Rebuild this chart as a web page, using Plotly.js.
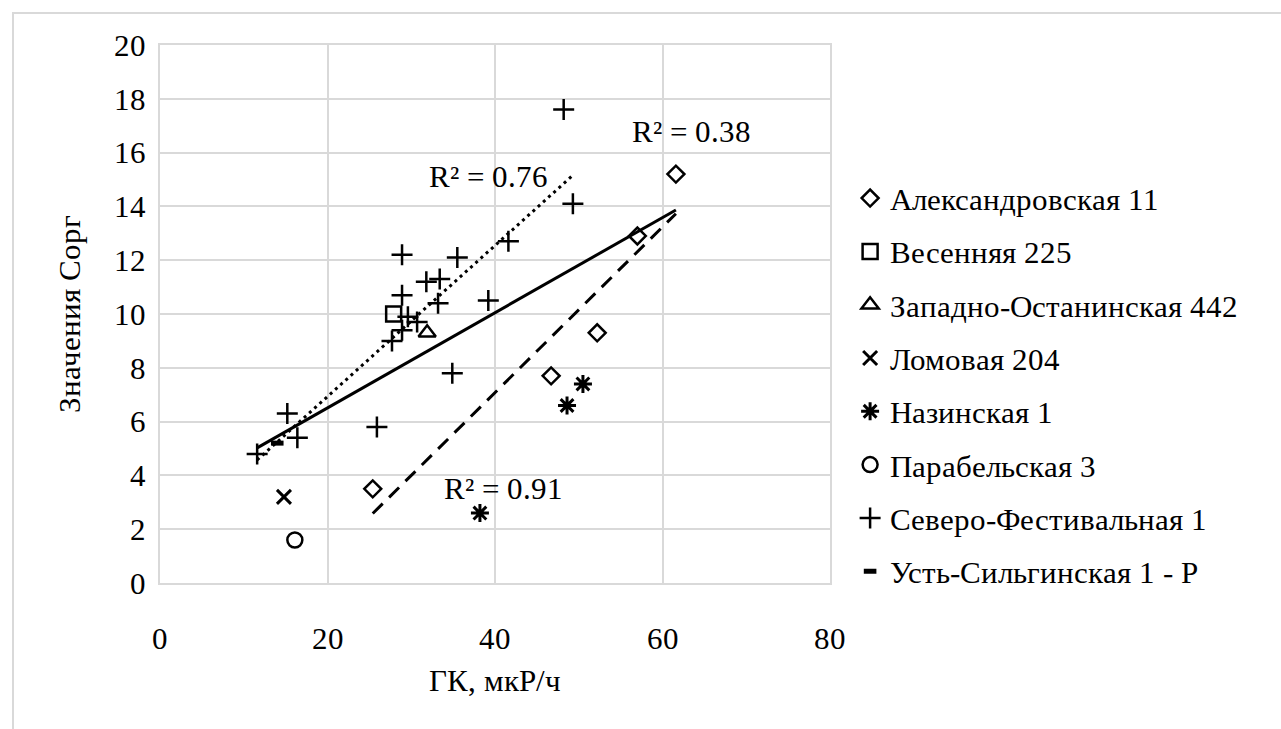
<!DOCTYPE html>
<html>
<head>
<meta charset="utf-8">
<script src="https://cdn.plot.ly/plotly-3.0.1.min.js"></script>
<style>
  @font-face { font-family: "RefSerif"; src: local("Liberation Serif"), local("LiberationSerif"), local("LiberationSerif-Regular"), local("Times New Roman"), local("DejaVu Serif"), local("DejaVuSerif"); }
  html, body { margin: 0; padding: 0; background: #ffffff; overflow: hidden; }
  #frame { position: absolute; left: 12px; top: 12px; width: 1300px; height: 760px; border: 2px solid #d9d9d9; box-sizing: border-box; }
  #chart { position: absolute; left: 0; top: 0; width: 1281px; height: 729px; }
</style>
</head>
<body>
<div id="frame"></div>
<div id="chart"></div>
<script>
// ---- Data ----
const seriesNames = [
  "Александровская 11",
  "Весенняя 225",
  "Западно-Останинская 442",
  "Ломовая 204",
  "Назинская 1",
  "Парабельская 3",
  "Северо-Фестивальная 1",
  "Усть-Сильгинская 1 - Р"
];
const alexX = [25.4, 46.7, 52.2, 57.0, 61.6];
const alexY = [3.5, 7.7, 9.3, 12.9, 15.2];
const vesX = [27.9];
const vesY = [10.0];
const zapX = [31.9];
const zapY = [9.3];
const lomX = [14.8];
const lomY = [3.2];
const nazX = [38.2, 48.6, 50.5];
const nazY = [2.6, 6.6, 7.4];
const parX = [16.1];
const parY = [1.6];
const sevX = [11.6, 15.2, 16.4, 25.9, 27.7, 28.9, 28.9, 28.9, 29.6, 30.7, 31.8, 33.4, 33.2, 35.5, 34.9, 39.2, 41.6, 48.2, 49.3];
const sevY = [4.8, 6.3, 5.4, 5.8, 9.0, 9.4, 10.7, 12.2, 9.9, 9.7, 11.2, 11.3, 10.4, 12.1, 7.8, 10.5, 12.7, 17.6, 14.1];
const ustX = [14.0];
const ustY = [5.2];
const r2Labels = ["R² = 0.38", "R² = 0.76", "R² = 0.91"];
const xTicks = [0, 20, 40, 60, 80];
const yTicks = [0, 2, 4, 6, 8, 10, 12, 14, 16, 18, 20];

// ---- Linear trendline helper (least squares over given data) ----
function linfit(xs, ys) {
  const n = xs.length;
  const mx = xs.reduce((a, b) => a + b, 0) / n;
  const my = ys.reduce((a, b) => a + b, 0) / n;
  let sxy = 0, sxx = 0;
  for (let i = 0; i < n; i++) { sxy += (xs[i] - mx) * (ys[i] - my); sxx += (xs[i] - mx) * (xs[i] - mx); }
  const b = sxy / sxx, a = my - b * mx;
  const x0 = Math.min(...xs), x1 = Math.max(...xs);
  return { x: [x0, x1], y: [a + b * x0, a + b * x1] };
}

const allX = [].concat(alexX, vesX, zapX, lomX, nazX, parX, sevX, ustX);
const allY = [].concat(alexY, vesY, zapY, lomY, nazY, parY, sevY, ustY);
const fitAll = linfit(allX, allY);
const fitSev = linfit(sevX, sevY);
const fitAlex = linfit(alexX, alexY);

const FONT = "RefSerif, Liberation Serif, serif";
const mk = (sym, size, w) => ({ symbol: sym, size: size, color: "#000", line: { color: "#000", width: w } });

const traces = [
  { x: alexX, y: alexY, name: seriesNames[0], marker: mk("diamond-open", 13, 2.5) },
  { x: vesX, y: vesY, name: seriesNames[1], marker: mk("square-open", 15, 2.5) },
  { x: zapX, y: zapY, name: seriesNames[2], marker: mk("triangle-up-open", 15, 2.5) },
  { x: lomX, y: lomY, name: seriesNames[3], marker: mk("x-thin-open", 14, 3) },
  { x: nazX, y: nazY, name: seriesNames[4], marker: mk("asterisk-open", 15, 3) },
  { x: parX, y: parY, name: seriesNames[5], marker: mk("circle-open", 15, 2.5) },
  { x: sevX, y: sevY, name: seriesNames[6], marker: mk("cross-thin-open", 15, 2.5) },
  { x: ustX, y: ustY, name: seriesNames[7], marker: mk("line-ew-open", 9, 5) }
].map((t, i) => Object.assign({ type: "scatter", mode: "markers", legendgroup: "g" + i, cliponaxis: false }, t));

const lines = [
  { x: fitAll.x, y: fitAll.y, line: { color: "#000", width: 3 } },
  { x: fitSev.x, y: fitSev.y, line: { color: "#000", width: 3, dash: "3px,4px" } },
  { x: fitAlex.x, y: fitAlex.y, line: { color: "#000", width: 3, dash: "14px,9px" } }
].map(t => Object.assign({ type: "scatter", mode: "lines", showlegend: false, hoverinfo: "skip" }, t));

const data = lines.concat(traces);

const layout = {
  width: 1281, height: 729,
  paper_bgcolor: "rgba(0,0,0,0)", plot_bgcolor: "#fff",
  margin: { l: 160, r: 451, t: 45, b: 146 },
  font: { family: FONT, size: 31, color: "#000" },
  showlegend: true,
  legend: {
    x: 1.03, xanchor: "left", y: 0.765, yanchor: "top",
    font: { family: FONT, size: 31, color: "#000" },
    tracegroupgap: 10, itemwidth: 30, bgcolor: "rgba(0,0,0,0)"
  },
  xaxis: {
    range: [0, 80], tickvals: xTicks, ticktext: xTicks.map(String),
    showgrid: true, gridcolor: "#d9d9d9", gridwidth: 2,
    showline: true, linecolor: "#d9d9d9", linewidth: 2, mirror: true,
    zeroline: false, ticks: "outside", ticklen: 27, tickcolor: "rgba(0,0,0,0)",
    tickfont: { family: FONT, size: 31 },
    title: { text: "ГК, мкР/ч", font: { family: FONT, size: 31 }, standoff: 14 }
  },
  yaxis: {
    range: [0, 20], tickvals: yTicks, ticktext: yTicks.map(String),
    showgrid: true, gridcolor: "#d9d9d9", gridwidth: 2,
    showline: true, linecolor: "#d9d9d9", linewidth: 2, mirror: true,
    zeroline: false, ticks: "outside", ticklen: 6, tickcolor: "rgba(0,0,0,0)",
    tickfont: { family: FONT, size: 31 },
    title: { text: "Значения Сорг", font: { family: FONT, size: 31 }, standoff: 24 }
  },
  annotations: [
    { x: 63.5, y: 16.77, text: r2Labels[0] },
    { x: 39.2, y: 15.1, text: r2Labels[1] },
    { x: 40.96, y: 3.53, text: r2Labels[2] }
  ].map(a => Object.assign({ xref: "x", yref: "y", showarrow: false, xanchor: "center", yanchor: "middle",
                             font: { family: FONT, size: 31, color: "#000" } }, a))
};

Plotly.newPlot("chart", data, layout, { displayModeBar: false, staticPlot: true });
</script>
</body>
</html>
